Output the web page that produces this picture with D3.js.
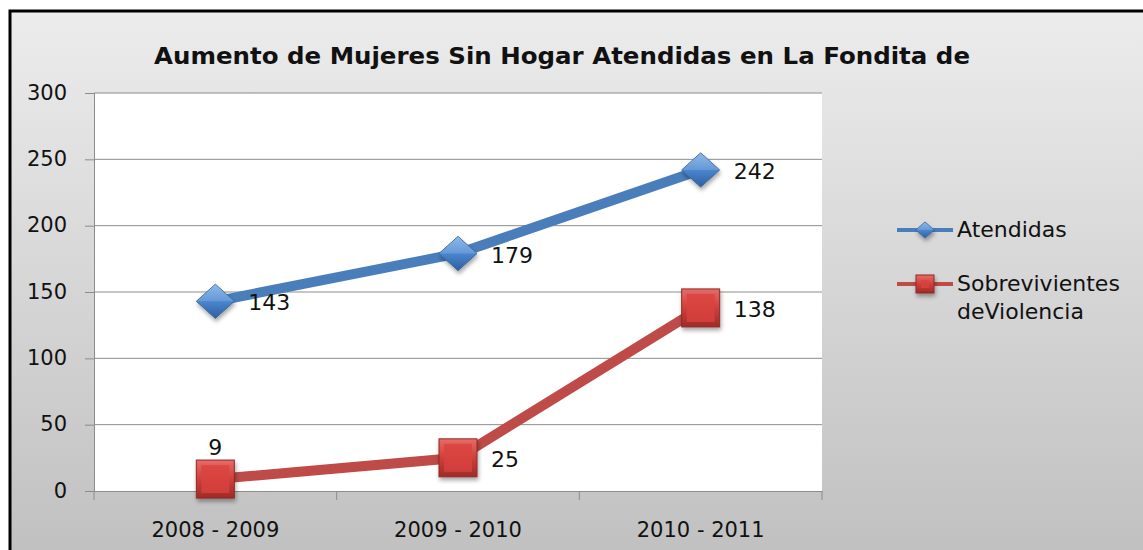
<!DOCTYPE html>
<meta charset="utf-8">
<script src="https://d3js.org/d3.v7.min.js"></script>
<style>
  body { margin: 0; background: #fff; }
  #chart text { font-family: "DejaVu Sans", sans-serif; fill: #111; }
</style>
<div id="chart"></div>
<script>
// chart data
var periods = ["2008 - 2009", "2009 - 2010", "2010 - 2011"];
var atendidas = [143, 179, 242];
var sobrevivientes = [9, 25, 138];
var yTicks = [0, 50, 100, 150, 200, 250, 300];
var seriesNames = ["Atendidas", "Sobrevivientes deViolencia"];

var W = 1143, H = 550;
var plot = { left: 94, right: 822, top: 93, bottom: 491 };

var svg = d3.select("#chart").append("svg")
    .attr("width", W).attr("height", H);

var defs = svg.append("defs");
var bg = defs.append("linearGradient").attr("id", "bg")
    .attr("x1", 0).attr("y1", 0).attr("x2", 0).attr("y2", 1);
bg.append("stop").attr("offset", 0).attr("stop-color", "#ececec");
bg.append("stop").attr("offset", 1).attr("stop-color", "#bfbfbf");

// chart frame
svg.append("rect").attr("x", 10).attr("y", 11).attr("width", W + 10).attr("height", H + 10)
    .attr("fill", "url(#bg)").attr("stroke", "#000").attr("stroke-width", 3);

svg.append("text").attr("x", 562).attr("y", 64)
    .attr("text-anchor", "middle")
    .attr("textLength", 816).attr("lengthAdjust", "spacingAndGlyphs")
    .style("font-size", "23px").style("font-weight", "bold")
    .text("Aumento de Mujeres Sin Hogar Atendidas en La Fondita de");

var x = d3.scaleBand().domain(periods).range([plot.left, plot.right]);
var y = d3.scaleLinear().domain([0, 300]).range([plot.bottom, plot.top]);

svg.append("rect").attr("x", plot.left).attr("y", plot.top)
    .attr("width", plot.right - plot.left).attr("height", plot.bottom - plot.top)
    .attr("fill", "#fff");

// gridlines
svg.append("g").selectAll("line").data(yTicks.slice(1)).enter().append("line")
    .attr("x1", plot.left).attr("x2", plot.right)
    .attr("y1", function(d) { return y(d); }).attr("y2", function(d) { return y(d); })
    .attr("stroke", "#8c8c8c").attr("stroke-width", 1);

// y axis
var yAxis = svg.append("g").attr("transform", "translate(" + plot.left + ",0)")
    .call(d3.axisLeft(y).tickValues(yTicks).tickSize(9).tickPadding(18));
yAxis.select(".domain").attr("stroke", "#8c8c8c");
yAxis.selectAll(".tick line").attr("stroke", "#8c8c8c");
yAxis.selectAll("text").style("font-size", "21px").attr("dy", "0.3em");

// x axis
var xAxis = svg.append("g").attr("transform", "translate(0," + plot.bottom + ")")
    .call(d3.axisBottom(x).tickSize(0).tickPadding(31));
xAxis.select(".domain").attr("stroke", "#8c8c8c");
xAxis.selectAll("text").style("font-size", "21px");
var bounds = periods.map(function(p) { return x(p); }).concat([plot.right]);
svg.append("g").selectAll("line").data(bounds).enter().append("line")
    .attr("x1", function(d) { return d; }).attr("x2", function(d) { return d; })
    .attr("y1", plot.bottom).attr("y2", plot.bottom + 9)
    .attr("stroke", "#8c8c8c");

function cx(i) { return x(periods[i]) + x.bandwidth() / 2; }

var line = d3.line()
    .x(function(d, i) { return cx(i); })
    .y(function(d) { return y(d); });

var blue = "#4a7ebb", red = "#be4b48";

// marker gradients
var gb = defs.append("linearGradient").attr("id", "gblue").attr("x1", 0).attr("y1", 0).attr("x2", 0).attr("y2", 1);
gb.append("stop").attr("offset", 0).attr("stop-color", "#7aaee8");
gb.append("stop").attr("offset", 0.5).attr("stop-color", "#4a86cf");
gb.append("stop").attr("offset", 1).attr("stop-color", "#2e5f9c");
var gr = defs.append("linearGradient").attr("id", "gred").attr("x1", 0).attr("y1", 0).attr("x2", 0).attr("y2", 1);
gr.append("stop").attr("offset", 0).attr("stop-color", "#e66c68");
gr.append("stop").attr("offset", 0.5).attr("stop-color", "#cf3f3b");
gr.append("stop").attr("offset", 1).attr("stop-color", "#9e2b28");

var shadow = defs.append("filter").attr("id", "sh").attr("x", "-50%").attr("y", "-50%").attr("width", "200%").attr("height", "200%");
shadow.append("feDropShadow").attr("dx", 1).attr("dy", 3).attr("stdDeviation", 2).attr("flood-opacity", 0.35);

function diamond(g, px, py, s) {
  g.append("path")
    .attr("d", "M" + (px - s) + "," + py + "L" + px + "," + (py - s * 0.9) + "L" + (px + s) + "," + py + "L" + px + "," + (py + s * 0.9) + "Z")
    .attr("fill", "url(#gblue)").attr("stroke", "#3a6aa5").attr("stroke-width", 1)
    .attr("filter", "url(#sh)");
  g.append("path")
    .attr("d", "M" + (px - s) + "," + py + "L" + px + "," + (py - s * 0.9) + "L" + (px + s) + "," + py + "Z")
    .attr("fill", "#fff").attr("opacity", 0.15);
}
function square(g, px, py, s) {
  g.append("rect").attr("x", px - s).attr("y", py - s).attr("width", 2 * s).attr("height", 2 * s)
    .attr("fill", "url(#gred)").attr("stroke", "#8e2a27").attr("stroke-width", 1)
    .attr("filter", "url(#sh)");
  g.append("rect").attr("x", px - s + 5).attr("y", py - s + 5).attr("width", 2 * s - 10).attr("height", 2 * s - 10)
    .attr("fill", "#d9423e").attr("opacity", 0.8);
}

// series lines
svg.append("path").datum(atendidas).attr("d", line)
    .attr("fill", "none").attr("stroke", blue).attr("stroke-width", 10);
svg.append("path").datum(sobrevivientes).attr("d", line)
    .attr("fill", "none").attr("stroke", red).attr("stroke-width", 10);

var mk = svg.append("g");
atendidas.forEach(function(v, i) { diamond(mk, cx(i), y(v), 19); });
sobrevivientes.forEach(function(v, i) { square(mk, cx(i), y(v), 19); });

// data labels
var lbl = svg.append("g").style("font-size", "22px");
atendidas.forEach(function(v, i) {
  lbl.append("text").attr("x", cx(i) + 33).attr("y", y(v) + 9).text(v);
});
sobrevivientes.forEach(function(v, i) {
  if (i === 0) {
    lbl.append("text").attr("x", cx(i)).attr("y", y(v) - 24).attr("text-anchor", "middle").text(v);
  } else {
    lbl.append("text").attr("x", cx(i) + 33).attr("y", y(v) + 9).text(v);
  }
});

// legend
var lg = svg.append("g");
lg.append("line").attr("x1", 897).attr("x2", 953).attr("y1", 230).attr("y2", 230)
    .attr("stroke", blue).attr("stroke-width", 4);
diamond(lg, 925, 230, 9);
lg.append("text").attr("x", 957).attr("y", 237).style("font-size", "22px").text(seriesNames[0]);
lg.append("line").attr("x1", 897).attr("x2", 953).attr("y1", 284).attr("y2", 284)
    .attr("stroke", red).attr("stroke-width", 4);
square(lg, 925, 284, 9);
var t2 = lg.append("text").attr("x", 957).attr("y", 291).style("font-size", "22px");
t2.append("tspan").attr("x", 957).text(seriesNames[1].split(" ")[0]);
t2.append("tspan").attr("x", 957).attr("dy", 28).text(seriesNames[1].split(" ")[1]);
</script>
